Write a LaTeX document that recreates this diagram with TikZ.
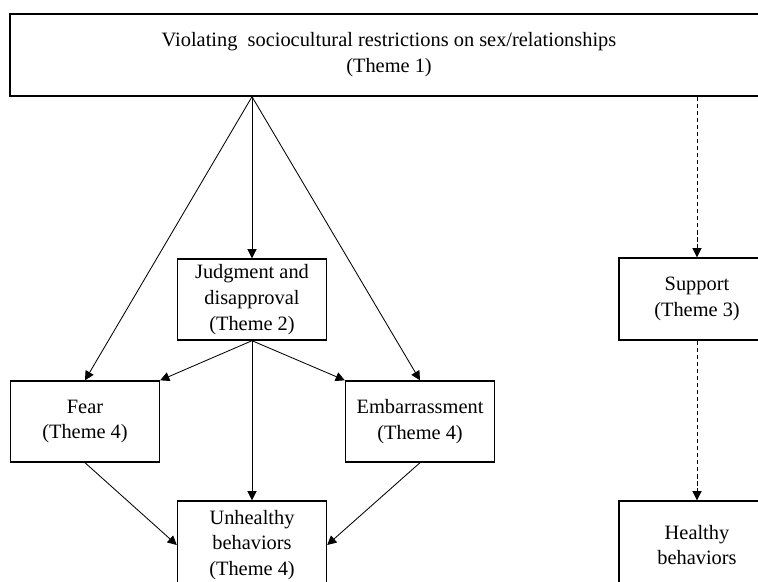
\documentclass[tikz,border=0pt]{standalone}
\usepackage{fontspec}
\setmainfont{Liberation Serif}
\usetikzlibrary{arrows.meta}

\begin{document}
		\begin{tikzpicture}[>={Triangle[length=6.5pt,width=6.5pt]}, x=0.025cm, y=-0.025cm,
			themebox/.style={draw, line width=1pt, align=center, inner sep=0pt,
				font=\fontsize{14.5}{18.4}\selectfont},
			link/.style={->, line width=0.6pt},
			dashlink/.style={->, line width=0.6pt, dash pattern=on 3pt off 2pt}]
			
			% Khung ảnh cố định (các hộp bên phải và bên dưới bị cắt)
			\useasboundingbox (0,0) rectangle (758,581);
			\clip (0,0) rectangle (758,581);
			
			% Hộp chủ đề 1 ở trên cùng
			\node[themebox, minimum width=758*0.025cm, minimum height=82*0.025cm] (violating) at (389,55)
			{Violating \ sociocultural restrictions on sex/relationships\\(Theme 1)};
			
			% Các hộp nhánh bên trái
			\node[themebox, minimum width=149*0.025cm, minimum height=81*0.025cm] (judgment) at (252,299.5)
			{Judgment and\\disapproval\\(Theme 2)};
			\node[themebox, minimum width=149*0.025cm, minimum height=81*0.025cm] (fear) at (85,421.5)
			{Fear\\(Theme 4)};
			\node[themebox, minimum width=149*0.025cm, minimum height=81*0.025cm] (embarrass) at (420,421.5)
			{Embarrassment\\(Theme 4)};
			\node[themebox, minimum width=149*0.025cm, minimum height=88*0.025cm] (unhealthy) at (252,545)
			{Unhealthy\\behaviors\\(Theme 4)};
			
			% Các hộp nhánh bên phải
			\node[themebox, minimum width=156*0.025cm, minimum height=82*0.025cm] (support) at (697,299)
			{Support\\(Theme 3)};
			\node[themebox, minimum width=156*0.025cm, minimum height=88*0.025cm] (healthy) at (697,545)
			{Healthy\\behaviors};
			
			% Điểm xuất phát của các mũi tên
			\coordinate (origin) at (violating.south -| judgment.north);
			\coordinate (origin2) at (violating.south -| support.north);
			
			% Mũi tên liền nét
			\draw[link] (origin) -- (fear.north);
			\draw[link] (origin) -- (judgment.north);
			\draw[link] (origin) -- (embarrass.north);
			\draw[link] (judgment.south) -- (fear.north east);
			\draw[link] (judgment.south) -- (embarrass.north west);
			\draw[link] (judgment.south) -- (unhealthy.north);
			\draw[link] (fear.south) -- (unhealthy.west);
			\draw[link] (embarrass.south) -- (unhealthy.east);
			
			% Mũi tên nét đứt
			\draw[dashlink] (origin2) -- (support.north);
			\draw[dashlink] (support.south) -- (healthy.north);
			
		\end{tikzpicture}
\end{document}
